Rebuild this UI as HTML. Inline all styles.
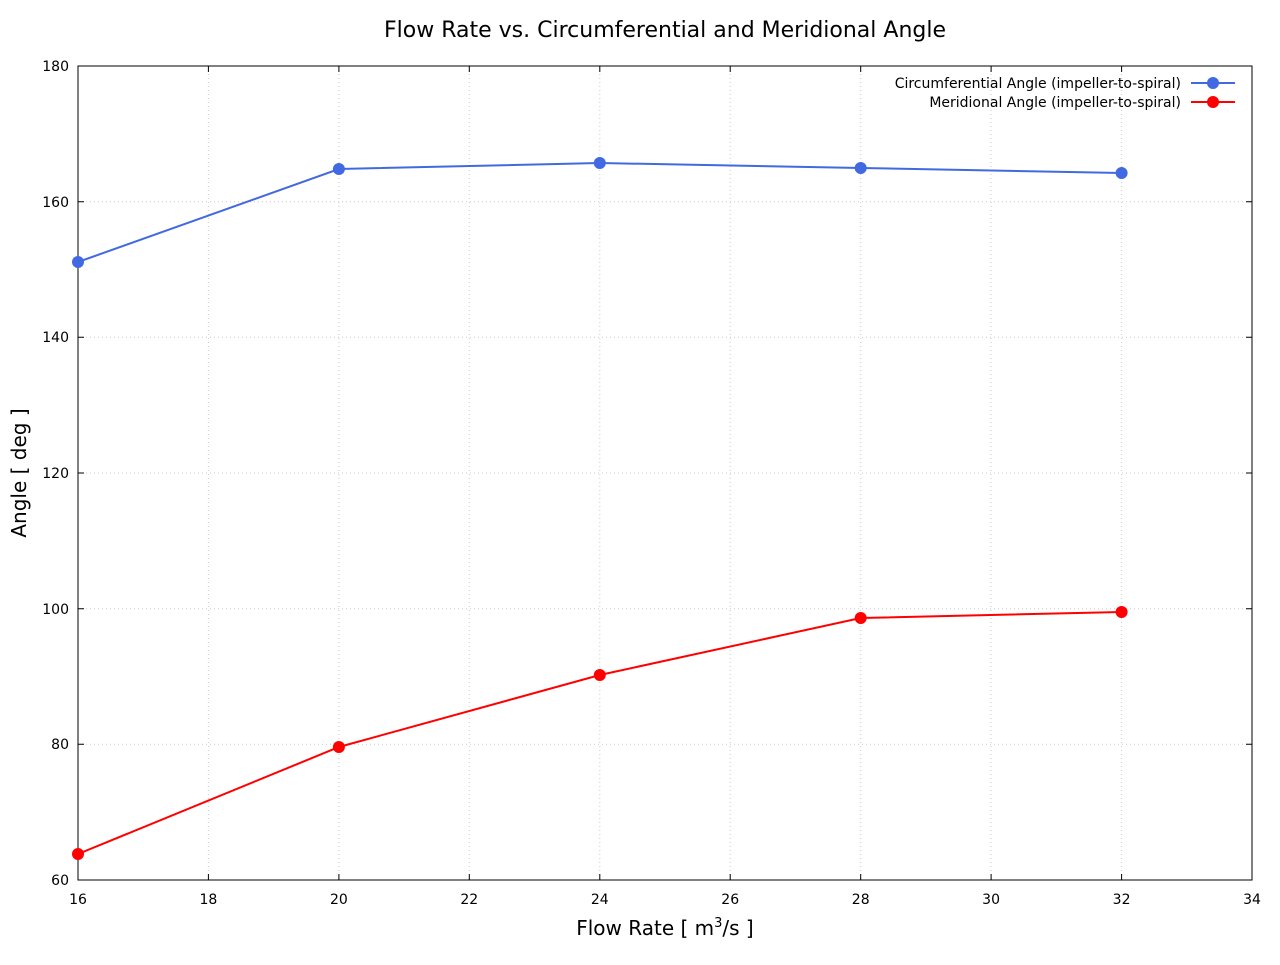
<!DOCTYPE html>
<html><head><meta charset="utf-8"><style>
body{margin:0;background:#fff;}
svg text{font-family:"DejaVu Sans","Liberation Sans",sans-serif;}
</style></head><body>
<svg width="1280" height="960" xmlns="http://www.w3.org/2000/svg">
<rect width="1280" height="960" fill="#fff"/>
<g stroke="#ccc" stroke-width="1" stroke-dasharray="1,3">
<line x1="208.4" y1="66" x2="208.4" y2="880"/><line x1="338.9" y1="66" x2="338.9" y2="880"/><line x1="469.3" y1="66" x2="469.3" y2="880"/><line x1="599.8" y1="66" x2="599.8" y2="880"/><line x1="730.2" y1="66" x2="730.2" y2="880"/><line x1="860.7" y1="66" x2="860.7" y2="880"/><line x1="991.1" y1="66" x2="991.1" y2="880"/><line x1="1121.6" y1="66" x2="1121.6" y2="880"/>
<line x1="78" y1="744.3" x2="1252" y2="744.3"/><line x1="78" y1="608.7" x2="1252" y2="608.7"/><line x1="78" y1="473" x2="1252" y2="473"/><line x1="78" y1="337.3" x2="1252" y2="337.3"/><line x1="78" y1="201.7" x2="1252" y2="201.7"/>
</g>
<rect x="78" y="66" width="1174" height="814" fill="none" stroke="#000" stroke-width="1"/>
<g stroke="#000" stroke-width="1">
<path d="M208.4 880v-6M338.9 880v-6M469.3 880v-6M599.8 880v-6M730.2 880v-6M860.7 880v-6M991.1 880v-6M1121.6 880v-6M208.4 66v6M338.9 66v6M469.3 66v6M599.8 66v6M730.2 66v6M860.7 66v6M991.1 66v6M1121.6 66v6"/>
<path d="M78 744.3h6M78 608.7h6M78 473h6M78 337.3h6M78 201.7h6M1252 744.3h-6M1252 608.7h-6M1252 473h-6M1252 337.3h-6M1252 201.7h-6"/>
</g>
<g font-size="14" fill="#000" text-anchor="middle">
<text x="78" y="904">16</text><text x="208.4" y="904">18</text><text x="338.9" y="904">20</text><text x="469.3" y="904">22</text><text x="599.8" y="904">24</text><text x="730.2" y="904">26</text><text x="860.7" y="904">28</text><text x="991.1" y="904">30</text><text x="1121.6" y="904">32</text><text x="1252" y="904">34</text>
</g>
<g font-size="14" fill="#000" text-anchor="end">
<text x="69" y="885">60</text><text x="69" y="749">80</text><text x="69" y="614">100</text><text x="69" y="478">120</text><text x="69" y="342">140</text><text x="69" y="207">160</text><text x="69" y="71">180</text>
</g>
<text x="665" y="37" font-size="22" text-anchor="middle">Flow Rate vs. Circumferential and Meridional Angle</text>
<text x="665" y="935" font-size="20" text-anchor="middle">Flow Rate [ m<tspan font-size="13" dy="-8">3</tspan><tspan dy="8">/s ]</tspan></text>
<text transform="translate(26,473) rotate(-90)" font-size="20" text-anchor="middle">Angle [ deg ]</text>
<polyline fill="none" stroke="#4169e1" stroke-width="2" points="78,262 338.9,169 599.8,163 860.7,168 1121.6,173"/>
<g fill="#4169e1"><circle cx="78" cy="262" r="6"/><circle cx="338.9" cy="169" r="6"/><circle cx="599.8" cy="163" r="6"/><circle cx="860.7" cy="168" r="6"/><circle cx="1121.6" cy="173" r="6"/></g>
<polyline fill="none" stroke="#ff0000" stroke-width="2" points="78,854 338.9,747 599.8,675 860.7,618 1121.6,612"/>
<g fill="#ff0000"><circle cx="78" cy="854" r="6"/><circle cx="338.9" cy="747" r="6"/><circle cx="599.8" cy="675" r="6"/><circle cx="860.7" cy="618" r="6"/><circle cx="1121.6" cy="612" r="6"/></g>
<g font-size="14" text-anchor="end" fill="#000">
<text x="1181" y="88">Circumferential Angle (impeller-to-spiral)</text>
<text x="1181" y="107">Meridional Angle (impeller-to-spiral)</text>
</g>
<line x1="1191" y1="83" x2="1235" y2="83" stroke="#4169e1" stroke-width="2"/><circle cx="1213" cy="83" r="6" fill="#4169e1"/>
<line x1="1191" y1="102" x2="1235" y2="102" stroke="#ff0000" stroke-width="2"/><circle cx="1213" cy="102" r="6" fill="#ff0000"/>
</svg>
</body></html>
